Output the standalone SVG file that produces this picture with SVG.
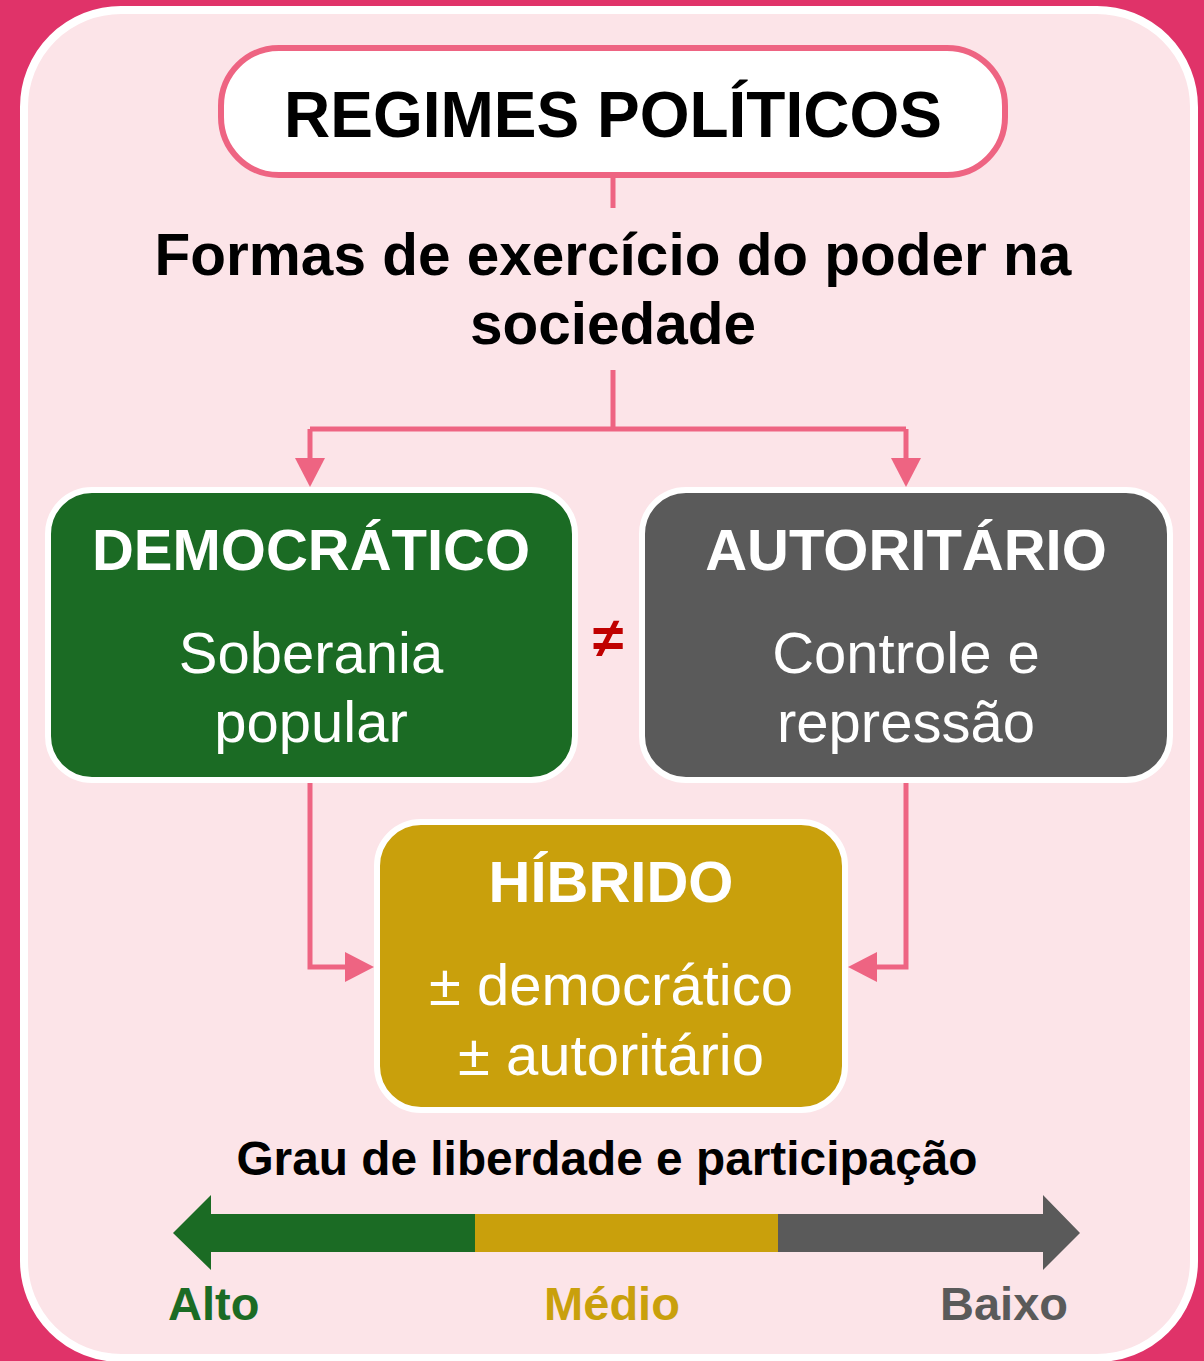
<svg xmlns="http://www.w3.org/2000/svg" width="1204" height="1361" viewBox="0 0 1204 1361">
<defs>
<style>
.t{font-family:"Liberation Sans",Arial,sans-serif;text-anchor:middle}
.b{font-weight:bold}
.conn{fill:none;stroke:#EE6482;stroke-width:5}
.head{fill:#EE6482}
.box{stroke:#FFFFFF;stroke-width:6}
</style>
</defs>
<rect x="0" y="0" width="1204" height="1361" fill="#E03369"/>
<rect x="24" y="10" width="1170" height="1348" rx="97" fill="#FCE4E8" stroke="#FFFFFF" stroke-width="8"/>

<g id="connectors">
<path class="conn" d="M613 177 V208"/>
<path class="conn" d="M613 370 V429 M310 429 H906 M310 429 V460 M906 429 V460"/>
<polygon class="head" points="295,458 325,458 310,487"/>
<polygon class="head" points="891,458 921,458 906,487"/>
<path class="conn" d="M310 782 V967 H347"/>
<polygon class="head" points="345,952 345,982 374,967"/>
<path class="conn" d="M906 782 V967 H875"/>
<polygon class="head" points="877,952 877,982 848,967"/>
</g>

<g id="title">
<rect x="221" y="48" width="784" height="127" rx="58" fill="#FFFFFF" stroke="#EE6482" stroke-width="6"/>
<text class="t b" x="613" y="137" font-size="64" fill="#000">REGIMES POLÍTICOS</text>
</g>

<g id="subtitle">
<text class="t b" x="613" y="275" font-size="58.5" fill="#000">Formas de exercício do poder na</text>
<text class="t b" x="613" y="344" font-size="58.5" fill="#000">sociedade</text>
</g>

<g id="democratico">
<rect class="box" x="48" y="490" width="527" height="290" rx="44" fill="#1B6B24"/>
<text class="t b" x="311" y="570" font-size="58" fill="#FFF">DEMOCRÁTICO</text>
<text class="t" x="311" y="673" font-size="58" fill="#FFF">Soberania</text>
<text class="t" x="311" y="742" font-size="58" fill="#FFF">popular</text>
</g>

<g id="neq">
<text class="t b" x="608" y="657" font-size="56" fill="#C00000">≠</text>
</g>

<g id="autoritario">
<rect class="box" x="642" y="490" width="528" height="290" rx="44" fill="#5A5A5A"/>
<text class="t b" x="906" y="570" font-size="58" fill="#FFF">AUTORITÁRIO</text>
<text class="t" x="906" y="673" font-size="58" fill="#FFF">Controle e</text>
<text class="t" x="906" y="742" font-size="58" fill="#FFF">repressão</text>
</g>

<g id="hibrido">
<rect class="box" x="377" y="822" width="468" height="288" rx="44" fill="#C9A00C"/>
<text class="t b" x="611" y="902" font-size="58" fill="#FFF">HÍBRIDO</text>
<text class="t" x="611" y="1005" font-size="58" fill="#FFF">± democrático</text>
<text class="t" x="611" y="1075" font-size="58" fill="#FFF">± autoritário</text>
</g>

<g id="scale">
<text class="t b" x="607" y="1175" font-size="47.8" fill="#000">Grau de liberdade e participação</text>
<polygon points="173,1233 211,1195 211,1214 476,1214 476,1252 211,1252 211,1270" fill="#1B6B24"/>
<rect x="475" y="1214" width="304" height="38" fill="#C9A00C"/>
<polygon points="778,1214 1043,1214 1043,1195 1080,1233 1043,1270 1043,1252 778,1252" fill="#5A5A5A"/>
<text class="b" x="168" y="1320" font-size="47" fill="#1B6B24" font-family="Liberation Sans, Arial, sans-serif">Alto</text>
<text class="t b" x="612" y="1320" font-size="47" fill="#C9A00C">Médio</text>
<text class="b" x="1068" y="1320" font-size="47" fill="#5A5A5A" text-anchor="end" font-family="Liberation Sans, Arial, sans-serif">Baixo</text>
</g>
</svg>
